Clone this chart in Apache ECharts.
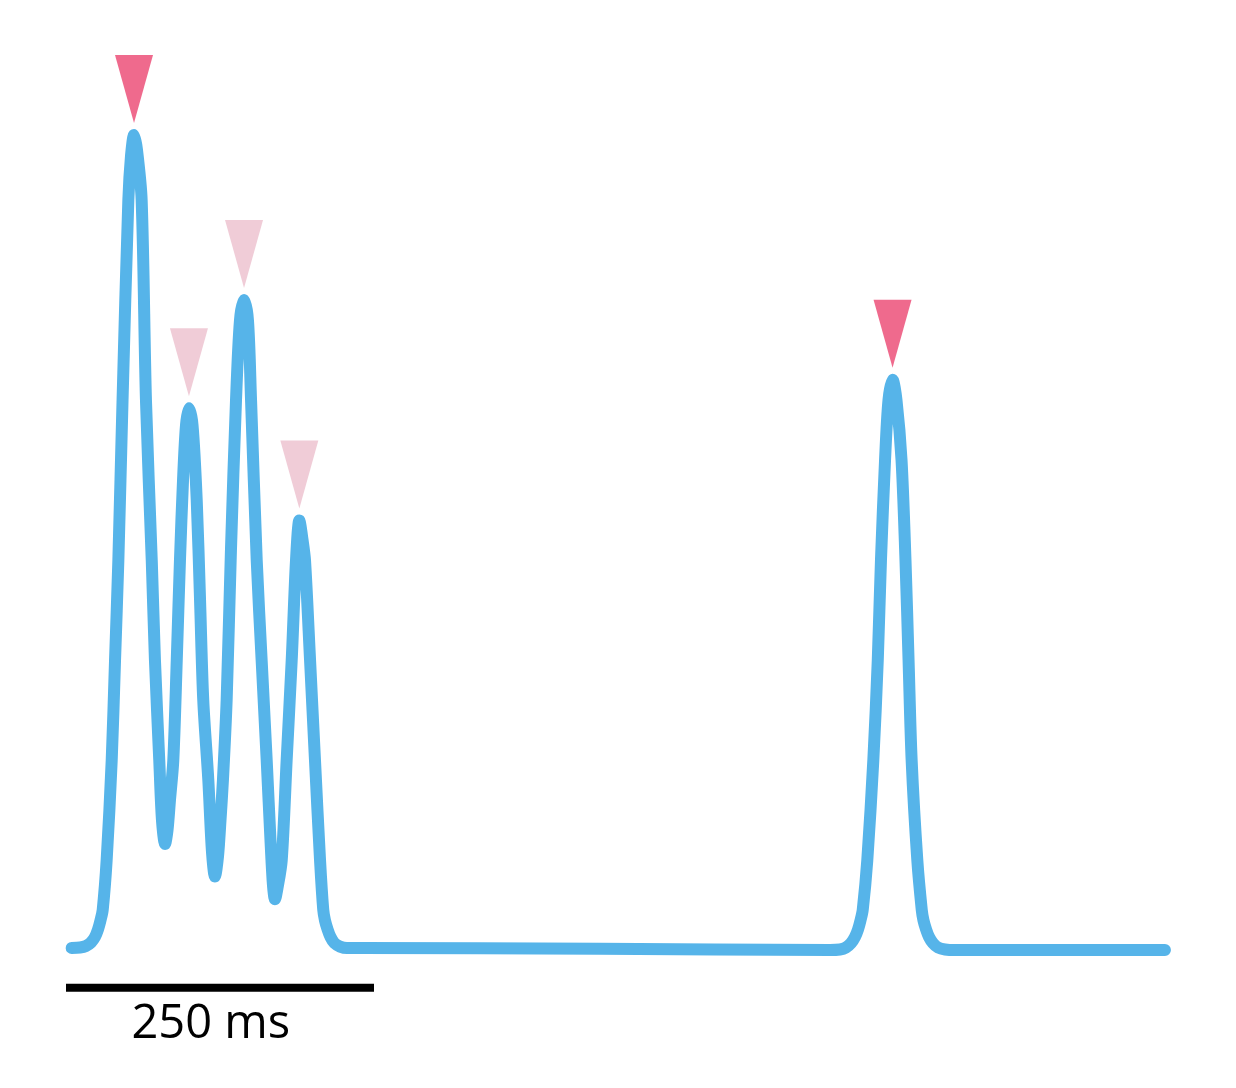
<!DOCTYPE html>
<html>
<head>
<meta charset="utf-8">
<script src="https://cdn.jsdelivr.net/npm/echarts@6/dist/echarts.min.js"></script>
<style>
html,body{margin:0;padding:0;background:#fff;}
#chart{width:1236px;height:1088px;}
</style>
</head>
<body>
<div id="chart"></div>
<script>
// Trace: time in ms, amplitude in arbitrary units (baseline 0, tallest peak 100)
const timeMs = [4.6,11.4,16.2,20.3,23.5,26.0,28.0,29.8,33.0,37.1,39.8,42.5,45.9,50.6,52.8,55.2,57.6,61.4,64.9,69.6,72.2,75.7,77.9,80.4,82.4,84.4,87.1,89.9,92.5,95.0,97.4,99.8,102.7,106.1,108.8,111.4,115.5,118.5,120.9,123.4,125.4,127.4,130.4,133.9,138.0,141.2,144.5,147.7,150.2,154.8,158.8,162.9,166.1,168.0,169.6,171.7,175.1,179.1,183.2,186.7,189.4,192.0,194.0,198.1,202.1,206.2,208.8,210.2,212.3,214.7,217.9,222.4,228.1,238.6,433.4,620.1,628.2,633.1,637.2,640.4,642.9,644.9,646.7,650.4,655.3,658.9,661.5,664.8,667.6,670.9,674.1,678.2,681.4,683.9,686.4,691.0,694.6,696.0,698.1,700.5,703.7,707.8,713.5,721.6,892.0];
const amplitude = [0,0.06,0.25,0.68,1.35,2.3,3.4,4.7,10.8,23.1,35.4,47.7,67.4,92.0,97.5,100,98.2,92.0,67.4,47.7,35.4,23.1,15.7,12.8,14.5,18.2,23.1,35.4,47.7,57.6,64.3,66.4,64.3,55.1,42.8,30.5,20.7,11.8,8.8,11.3,15.7,20.7,30.5,49.0,67.4,77.2,79.7,77.2,67.4,47.7,35.4,23.1,12.9,7.7,6.0,7.4,10.8,23.1,35.4,47.7,52.6,50.2,47.7,35.4,23.1,10.8,4.7,3.4,2.3,1.35,0.6,0.18,0,0,-0.1,-0.25,-0.18,0.06,0.6,1.35,2.3,3.4,4.7,10.8,23.1,35.4,47.7,60.0,67.4,69.9,67.4,60.0,47.7,35.4,23.1,10.8,4.7,3.4,2.3,1.35,0.6,0.06,-0.18,-0.25,-0.25];

// Detected peaks
const strongPeakTimes = [55.2, 670.9];
const strongPeakValues = [100, 69.9];
const weakPeakTimes = [99.8, 144.5, 189.4];
const weakPeakValues = [66.4, 79.7, 52.6];

// Scale bar
const scaleBarMs = [0, 250];
const scaleBarLabel = '250 ms';

const chart = echarts.init(document.getElementById('chart'), null, {renderer:'canvas'});

const trace = timeMs.map((t,i)=>[t, amplitude[i]]);
const strong = strongPeakTimes.map((t,i)=>[t, strongPeakValues[i]]);
const weak = weakPeakTimes.map((t,i)=>[t, weakPeakValues[i]]);
const barY = -4.9;
const tri = 'path://M0,0L38,0L19,68Z';

chart.setOption({
  animation:false,
  backgroundColor:'#ffffff',
  grid:{left:66, right:61.2, top:0, bottom:0},
  xAxis:{type:'value', min:0, max:900, show:false},
  yAxis:{type:'value', min:-17.22, max:116.61, show:false},
  series:[
    {
      type:'line', data:trace, showSymbol:false, smooth:0.3,
      lineStyle:{color:'#56B4E9', width:12, cap:'round', join:'round'},
      z:2
    },
    {
      type:'scatter', data:weak, symbol:tri, symbolSize:[38,68], symbolOffset:[0,-46],
      itemStyle:{color:'#F0CCD7', opacity:1}, z:3
    },
    {
      type:'scatter', data:strong, symbol:tri, symbolSize:[38,68], symbolOffset:[0,-46],
      itemStyle:{color:'#EF6A8D', opacity:1}, z:3
    },
    {
      type:'line', data:scaleBarMs.map(t=>[t, barY]), showSymbol:false,
      lineStyle:{color:'#000000', width:8, cap:'butt'}, z:2
    },
    {
      type:'scatter', data:[[(scaleBarMs[0]+scaleBarMs[1])/2 - 7.5, -9.45]], symbolSize:0,
      itemStyle:{opacity:1},
      label:{show:true, position:'inside', formatter:scaleBarLabel, color:'#000000', opacity:1, fontSize:47, fontFamily:'Open Sans'},
      z:3
    }
  ]
});
</script>
</body>
</html>
